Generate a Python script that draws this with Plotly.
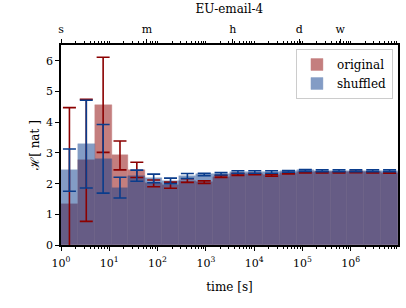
import numpy as np
import plotly.graph_objects as go

# ---- data ----
log_t_min, log_t_max, n_bins = 0.0, 6.98, 20   # bin edges: log-spaced time bins [s]
orig = [1.35, 2.76, 4.57, 2.92, 2.45, 2.01, 1.95, 2.10, 2.05, 2.23,
        2.30, 2.31, 2.27, 2.34, 2.37, 2.37, 2.37, 2.38, 2.37, 2.36]
orig_err = [3.13, 1.99, 1.55, 0.47, 0.25, 0.11, 0.10, 0.06, 0.04, 0.03,
            0.03, 0.02, 0.03, 0.02, 0.02, 0.02, 0.02, 0.02, 0.02, 0.02]
shuf = [2.44, 3.29, 2.81, 1.87, 2.26, 2.17, 2.09, 2.25, 2.30, 2.32,
        2.38, 2.38, 2.38, 2.40, 2.43, 2.42, 2.42, 2.42, 2.42, 2.42]
shuf_err = [0.69, 1.43, 1.12, 0.34, 0.18, 0.14, 0.09, 0.08, 0.04, 0.04,
            0.04, 0.04, 0.04, 0.03, 0.03, 0.03, 0.03, 0.03, 0.03, 0.03]
top_units = ["s", "m", "h", "d", "w"]
top_seconds = [1, 60, 3600, 86400, 604800]
decades = [0, 1, 2, 3, 4, 5, 6]
y_ticks = [0, 1, 2, 3, 4, 5, 6]

edges = np.linspace(log_t_min, log_t_max, n_bins + 1)
centers = (edges[:-1] + edges[1:]) / 2
widths = np.diff(edges)

RED = "#8b0000"
BLUE = "#0a3c8c"
FONT = "DejaVu Serif, Liberation Serif, serif"

fig = go.Figure()
fig.add_trace(go.Bar(x=centers, y=orig, width=widths, name="original",
                     marker=dict(color=RED, line=dict(color=RED, width=0.4)),
                     opacity=0.5))
fig.add_trace(go.Bar(x=centers, y=shuf, width=widths, name="shuffled",
                     marker=dict(color=BLUE, line=dict(color=BLUE, width=0.4)),
                     opacity=0.5))
fig.add_trace(go.Scatter(x=centers, y=orig, mode="markers", showlegend=False,
                         marker=dict(size=1, color=RED, opacity=0),
                         error_y=dict(type="data", array=orig_err, color=RED,
                                      thickness=1.6, width=6.5)))
fig.add_trace(go.Scatter(x=centers, y=shuf, mode="markers", showlegend=False,
                         marker=dict(size=1, color=BLUE, opacity=0),
                         error_y=dict(type="data", array=shuf_err, color=BLUE,
                                      thickness=1.6, width=6.5)))
# invisible trace to anchor the top axis
fig.add_trace(go.Scatter(x=[edges[0]], y=[0], xaxis="x2", mode="markers",
                         marker=dict(opacity=0), showlegend=False, hoverinfo="skip"))

minor_vals = [d + np.log10(k) for d in decades for k in range(2, 10)
              if d + np.log10(k) <= log_t_max]
top_minor = [d + np.log10(k) for d in decades for k in range(1, 10)
             if d + np.log10(k) <= log_t_max]

fig.update_layout(
    width=406, height=308,
    margin=dict(l=61, r=8, t=45, b=63),
    barmode="overlay", bargap=0,
    plot_bgcolor="white", paper_bgcolor="white",
    font=dict(family=FONT, size=11, color="black"),
    title=dict(text="EU-email-4", x=0.565, xanchor="center", y=0.985, yanchor="top",
               font=dict(family=FONT, size=12)),
    xaxis=dict(range=[log_t_min, log_t_max], showgrid=False, zeroline=False,
               automargin=False,
               tickmode="array", tickvals=decades,
               ticktext=[f"10<sup>{d}</sup>" for d in decades],
               ticks="outside", ticklen=4, tickwidth=1, tickcolor="black",
               ticklabelstandoff=3,
               minor=dict(tickmode="array", tickvals=minor_vals, ticks="outside",
                          ticklen=2, tickwidth=0.8, tickcolor="black"),
               showline=True, linecolor="black", linewidth=1.5, mirror=True,
               title=dict(text="time [s]", standoff=14, font=dict(size=12)),
               tickfont=dict(size=11)),
    xaxis2=dict(range=[log_t_min, log_t_max], overlaying="x", side="top",
                showgrid=False, zeroline=False, automargin=False,
                tickmode="array", tickvals=[np.log10(s) for s in top_seconds],
                ticktext=top_units, ticks="outside", ticklen=4, tickwidth=1,
                tickcolor="black", ticklabelstandoff=2,
                minor=dict(tickmode="array", tickvals=top_minor, ticks="outside",
                           ticklen=2, tickwidth=0.8, tickcolor="black"),
                showline=True, linecolor="black", linewidth=1.5,
                tickfont=dict(size=11)),
    yaxis=dict(range=[0, 6.52], showgrid=False, zeroline=False, automargin=False,
               tickmode="array", tickvals=y_ticks,
               ticks="outside", ticklen=4, tickwidth=1, tickcolor="black",
               showline=True, linecolor="black", linewidth=1.5, mirror=True,
               title=dict(text="ℋ[ nat ]", standoff=4, font=dict(size=12)),
               tickfont=dict(size=11)),
    legend=dict(x=0.985, y=0.98, xanchor="right", yanchor="top",
                bgcolor="rgba(255,255,255,0.8)", bordercolor="#cccccc", borderwidth=1,
                font=dict(family=FONT, size=12), itemwidth=30,
                tracegroupgap=0),
)

fig.write_html("out.html", config={"displayModeBar": False},
               post_script="document.body.style.margin='0';")
